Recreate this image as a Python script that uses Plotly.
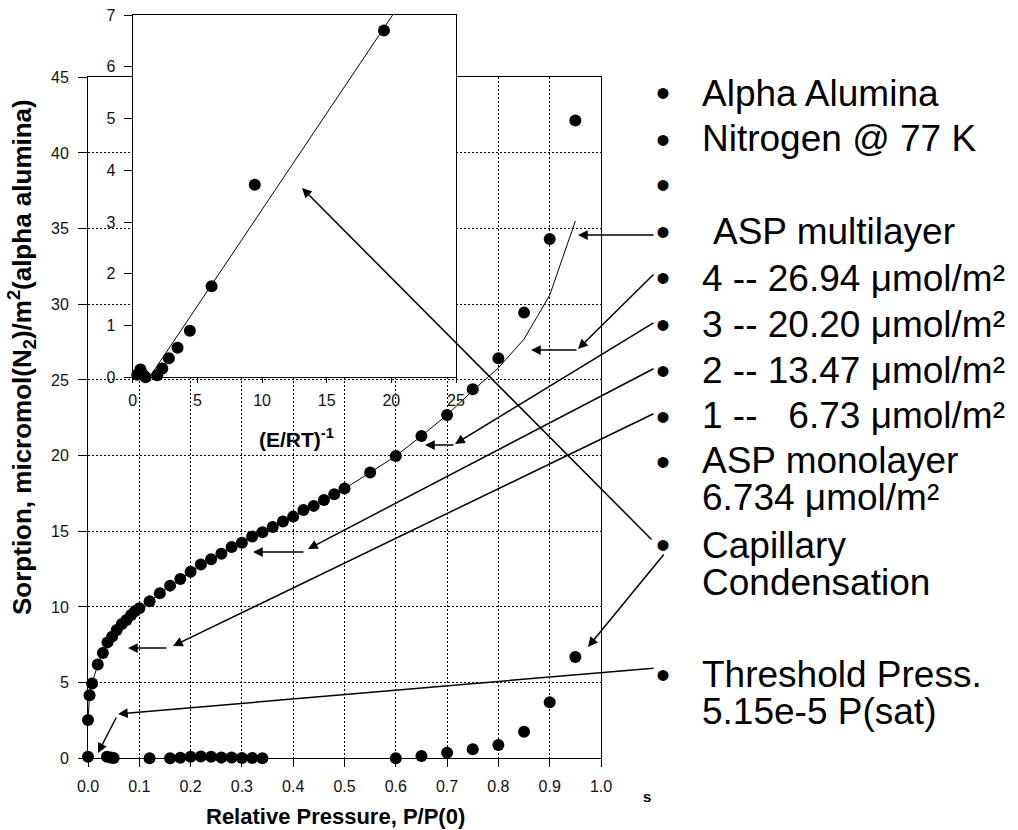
import plotly.graph_objects as go

W, H = 1018, 830
FONT = "Arial, 'Liberation Sans', sans-serif"

# ---------------- data ----------------
# Adsorption isotherm (upper branch), relative pressure vs sorption (umol/m2)
ads_p = [0.0, 0.003, 0.008, 0.019, 0.029, 0.038, 0.047, 0.056, 0.066, 0.075, 0.084, 0.092, 0.10,
         0.12, 0.14, 0.16, 0.18, 0.20, 0.22, 0.24, 0.26, 0.28, 0.30, 0.32, 0.34, 0.36, 0.38, 0.40,
         0.42, 0.44, 0.46, 0.48, 0.50, 0.55, 0.60, 0.65, 0.70, 0.75, 0.80, 0.85, 0.90, 0.95]
ads_q = [2.53, 4.16, 4.95, 6.2, 6.96, 7.66, 8.04, 8.48, 8.88, 9.14, 9.47, 9.74, 9.91,
         10.37, 10.9, 11.41, 11.85, 12.33, 12.8, 13.15, 13.52, 13.97, 14.25, 14.65, 14.94, 15.29, 15.64, 15.97,
         16.41, 16.68, 17.07, 17.45, 17.82, 18.88, 19.98, 21.3, 22.69, 24.39, 26.44, 29.45, 34.32, 42.14]

# ASP multilayer model curve
asp_p = [0.0, 0.003, 0.008, 0.019, 0.029, 0.038, 0.047, 0.056, 0.066, 0.075, 0.084, 0.092, 0.10,
         0.12, 0.14, 0.16, 0.18, 0.20, 0.22, 0.24, 0.26, 0.28, 0.30, 0.32, 0.34, 0.36, 0.38, 0.40,
         0.42, 0.44, 0.46, 0.48, 0.50, 0.55, 0.60, 0.65, 0.70, 0.75, 0.80, 0.85, 0.90, 0.95]
asp_q = [2.53, 4.16, 4.95, 6.2, 6.96, 7.66, 8.04, 8.48, 8.88, 9.14, 9.47, 9.74, 9.91,
         10.37, 10.9, 11.41, 11.85, 12.33, 12.8, 13.15, 13.52, 13.97, 14.25, 14.65, 14.94, 15.29, 15.64, 15.97,
         16.41, 16.68, 17.07, 17.45, 17.82, 18.88, 19.98, 21.3, 22.69, 24.3, 25.8, 27.7, 30.6, 35.5]

# Lower branch (threshold / capillary condensation series)
low_p = [0.0, 0.037, 0.045, 0.05, 0.12, 0.16, 0.18, 0.20, 0.22, 0.24, 0.26, 0.28, 0.30, 0.32, 0.34,
         0.60, 0.65, 0.70, 0.75, 0.80, 0.85, 0.90, 0.95]
low_q = [0.1, 0.1, 0.05, 0.02, 0.0, 0.0, 0.03, 0.1, 0.12, 0.1, 0.05, 0.05, 0.02, 0.02, 0.0,
         0.0, 0.15, 0.37, 0.6, 0.88, 1.76, 3.7, 6.7]

# Inset: (E/RT)^-1 vs sorption data and linear fit
ins_x = [0.35, 0.6, 0.8, 1.0, 1.9, 2.29, 2.80, 3.47, 4.42, 6.1, 9.44, 19.43]
ins_y = [0.05, 0.15, 0.05, 0.0, 0.04, 0.17, 0.37, 0.57, 0.90, 1.76, 3.72, 6.70]
fit_x = [1.3, 20.1]
fit_y = [0.0, 7.0]

x_ticks = [0.0, 0.1, 0.2, 0.3, 0.4, 0.5, 0.6, 0.7, 0.8, 0.9, 1.0]
y_ticks = [0, 5, 10, 15, 20, 25, 30, 35, 40, 45]
ix_ticks = [0, 5, 10, 15, 20, 25]
iy_ticks = [0, 1, 2, 3, 4, 5, 6, 7]

# legend-like bullet text (text, x px, y px centre)
notes = [
    ("Alpha Alumina", 700, 93),
    ("Nitrogen @ 77 K", 700, 139),
    ("ASP multilayer", 711, 231),
    ("4 -- 26.94 \u03bcmol/m\u00b2", 700, 278),
    ("3 -- 20.20 \u03bcmol/m\u00b2", 700, 324),
    ("2 -- 13.47 \u03bcmol/m\u00b2", 700, 370),
    ("1 --\u00a0\u00a0\u00a06.73 \u03bcmol/m\u00b2", 700, 415),
    ("ASP monolayer", 700, 460),
    ("6.734 \u03bcmol/m\u00b2", 700, 497),
    ("Capillary", 700, 545),
    ("Condensation", 700, 582),
    ("Threshold Press.", 700, 674),
    ("5.15e-5 P(sat)", 700, 711),
]
bullet_y = [93, 140, 185, 232, 278, 325, 371, 417, 462, 545, 675]

# arrows: tail (x,y) -> head (x,y) in pixels
arrows = [
    (655, 235, 578, 235),
    (655, 273, 578, 349), (578, 350, 531, 350),
    (655, 322, 455, 444), (455, 445, 425, 445),
    (655, 368, 308, 549), (305, 552, 253, 552),
    (655, 413, 173, 646), (168, 648, 128, 648),
    (653, 541, 302, 188),
    (665, 553, 588, 647),
    (655, 668, 118, 714), (117, 716, 98, 753),
]


def px(x):
    return x / W


def py(y):
    return 1 - y / H


fig = go.Figure()

fig.add_trace(go.Scatter(x=asp_p, y=asp_q, mode="lines", line=dict(color="black", width=1),
                         xaxis="x", yaxis="y", hoverinfo="skip"))
fig.add_trace(go.Scatter(x=ads_p, y=ads_q, mode="markers", cliponaxis=False,
                         marker=dict(color="black", size=12), xaxis="x", yaxis="y"))
fig.add_trace(go.Scatter(x=low_p, y=low_q, mode="markers", cliponaxis=False,
                         marker=dict(color="black", size=12), xaxis="x", yaxis="y"))
fig.add_trace(go.Scatter(x=fit_x, y=fit_y, mode="lines", line=dict(color="black", width=1),
                         xaxis="x2", yaxis="y2", hoverinfo="skip"))
fig.add_trace(go.Scatter(x=ins_x, y=ins_y, mode="markers", cliponaxis=False,
                         marker=dict(color="black", size=12), xaxis="x2", yaxis="y2"))

tickfont = dict(family=FONT, size=16, color="#111")
axis_common = dict(showline=True, linecolor="black", linewidth=1, zeroline=False,
                   ticks="outside", tickcolor="black", tickfont=tickfont)
grid = dict(showgrid=True, gridcolor="black", griddash="2px,2px", gridwidth=1)

fig.update_layout(
    width=W, height=H,
    margin=dict(l=0, r=0, t=0, b=0),
    paper_bgcolor="white", plot_bgcolor="white",
    showlegend=False,
    xaxis=dict(domain=[px(88), px(601)], range=[0, 1.0], tickvals=x_ticks,
               tickformat=".1f", ticklen=8, ticklabelstandoff=5, mirror=True,
               anchor="y", automargin=False, **grid, **axis_common),
    yaxis=dict(domain=[py(758.3), py(77.3)], range=[0, 45], tickvals=y_ticks,
               ticklen=9, ticklabelstandoff=6, mirror=True, anchor="x",
               automargin=False, **grid, **axis_common),
    xaxis2=dict(domain=[px(132.7), px(456)], range=[0, 25], tickvals=ix_ticks,
                ticklen=5, ticklabelstandoff=3, mirror=True, showgrid=False,
                anchor="y2", automargin=False, **axis_common),
    yaxis2=dict(domain=[py(377.3), py(15)], range=[0, 7], tickvals=iy_ticks,
                ticklen=8, ticklabelstandoff=5, mirror=True, showgrid=False,
                anchor="x2", automargin=False, **axis_common),
)

ann = []
# axis titles
ann.append(dict(text="<b>Relative Pressure, P/P(0)</b>", x=px(335), y=py(816),
                xref="paper", yref="paper", showarrow=False, xanchor="center", yanchor="middle",
                font=dict(family=FONT, size=22, color="black")))
ann.append(dict(text="<b>Sorption, micromol(N<sub>2</sub>)/m<sup>2</sup>(alpha alumina)</b>",
                x=px(22), y=py(357), xref="paper", yref="paper", showarrow=False,
                textangle=-90, xanchor="center", yanchor="middle",
                font=dict(family=FONT, size=26, color="black")))
ann.append(dict(text="<b>(E/RT)<sup>-1</sup></b>", x=px(296), y=py(438),
                xref="paper", yref="paper", showarrow=False, xanchor="center", yanchor="middle",
                font=dict(family=FONT, size=21, color="black")))
ann.append(dict(text="<b>s</b>", x=px(647), y=py(796), xref="paper", yref="paper",
                showarrow=False, xanchor="center", yanchor="middle",
                font=dict(family=FONT, size=15, color="black")))

for t, x, y in notes:
    ann.append(dict(text=t, x=px(x), y=py(y), xref="paper", yref="paper", showarrow=False,
                    xanchor="left", yanchor="middle",
                    font=dict(family=FONT, size=37, color="black")))
for y in bullet_y:
    ann.append(dict(text="\u2022", x=px(663), y=py(y), xref="paper", yref="paper",
                    showarrow=False, xanchor="center", yanchor="middle",
                    font=dict(family=FONT, size=40, color="black")))

for tx, ty, hx, hy in arrows:
    ann.append(dict(text="", x=px(hx), y=py(hy), xref="paper", yref="paper",
                    ax=tx - hx, ay=ty - hy, axref="pixel", ayref="pixel",
                    showarrow=True, arrowhead=2, arrowsize=1.3, arrowwidth=1.5,
                    arrowcolor="black", standoff=0, startstandoff=0))

fig.update_layout(annotations=ann)

fig.write_html("out.html")
